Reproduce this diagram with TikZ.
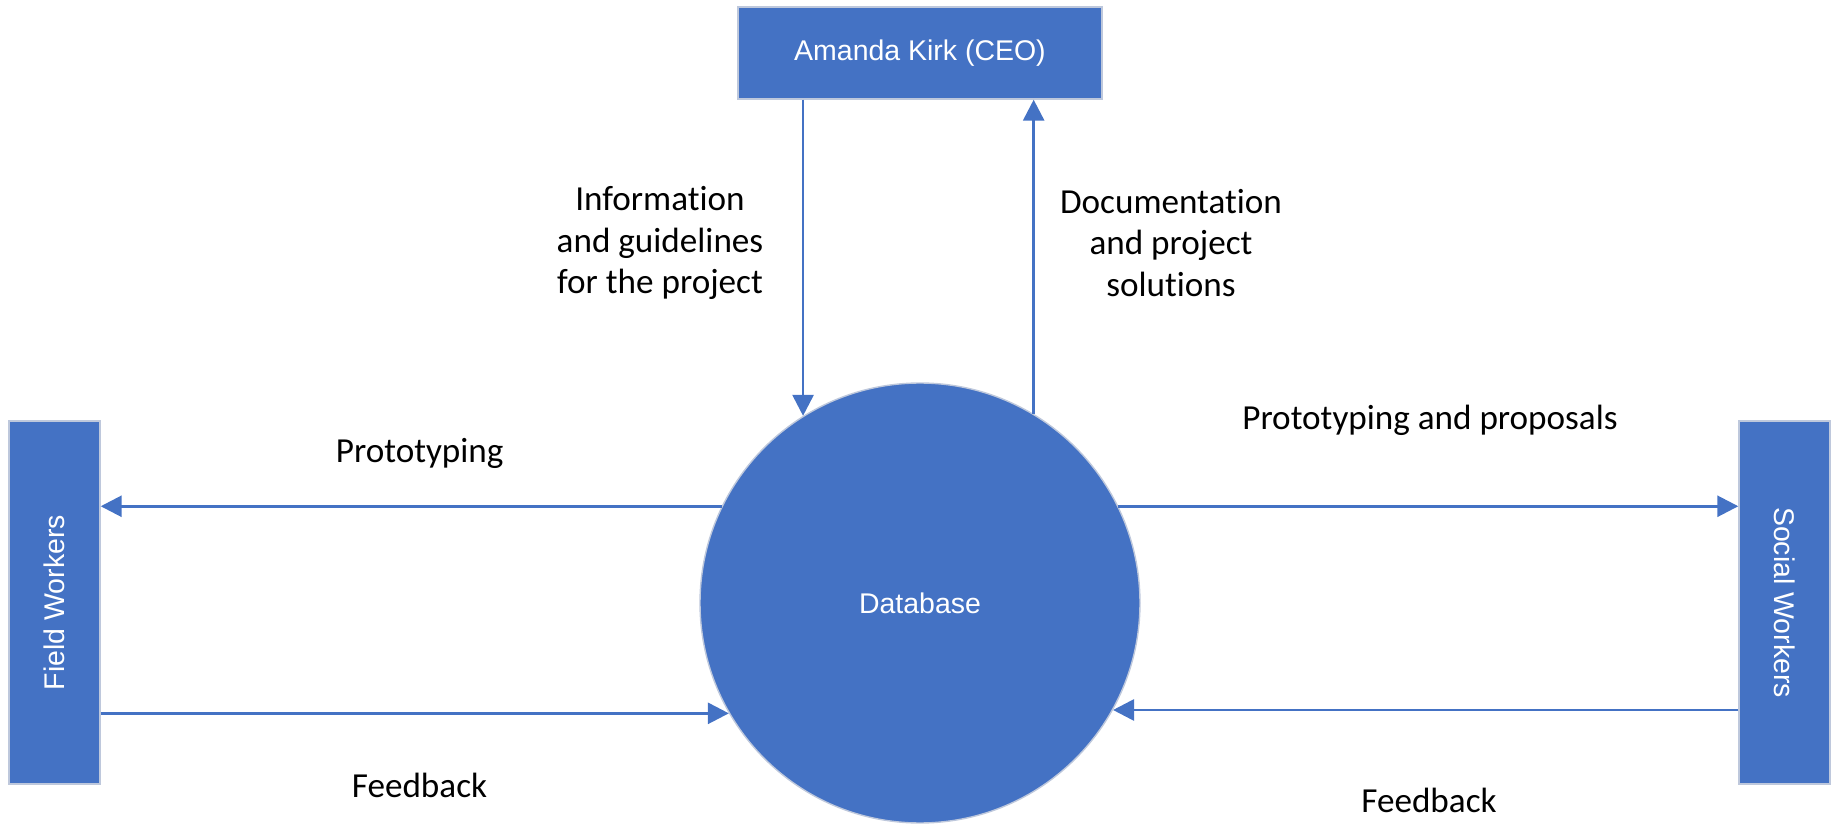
\documentclass[tikz,border=0pt]{standalone}
\usepackage{fontspec}
\setmainfont{Carlito}[Ligatures=NoCommon]
\newfontfamily\arialfont{Liberation Sans}
\usepackage{xcolor}
\definecolor{dfdblue}{RGB}{68,114,196}
\definecolor{dfdedge}{RGB}{190,200,220}
\usetikzlibrary{arrows.meta, positioning}

\begin{document}
\begin{tikzpicture}[
  entity/.style={draw=dfdedge, line width=0.4pt, fill=dfdblue, inner sep=0pt},
  boxtext/.style={font=\arialfont\fontsize{8.1}{9.7}\selectfont, white},
  flow/.style={dfdblue, line width=0.8pt, -{Triangle[length=2.1mm, width=2.1mm]}},
  flowlabel/.style={font=\fontsize{10}{11.9}\selectfont, align=center}
]
  \useasboundingbox (0,0) rectangle (18.38,8.25);

  % Entities
  \node[entity, minimum width=3.64cm, minimum height=0.92cm] (ceo) at (9.20,7.72) {};
  \node[boxtext] (ceotext) at (ceo) {Amanda Kirk (CEO)};
  \node[entity, minimum width=0.91cm, minimum height=3.63cm] (fw) at (0.545,2.225) {};
  \node[boxtext, rotate=90] (fwtext) at (fw) {Field Workers};
  \node[entity, minimum width=0.91cm, minimum height=3.63cm] (sw) at (17.845,2.225) {};
  \node[boxtext, rotate=-90] (swtext) at (sw) {Social Workers};

  % Central store
  \node[entity, circle, minimum size=4.40cm] (db) at (9.20,2.22) {};
  \node[boxtext] (dbtext) at (db) {Database};

  % Flows to and from the CEO
  \draw[flow] (db.122.9 |- ceo.south) -- (db.122.9);
  \draw[flow] (db.59.4) -- (db.59.4 |- ceo.south);
  \node[flowlabel] (infolbl) at (6.60,5.82) {Information\\and guidelines\\for the project};
  \node[flowlabel] (doclbl) at (11.71,5.82) {Documentation\\and project\\solutions};

  % Flows with the field workers
  \draw[flow] (db.154.3) -- (db.154.3 -| fw.east);
  \draw[flow] (db.210.6 -| fw.east) -- (db.210.6);
  \node[flowlabel, anchor=base] (protolbl) at (4.197,3.623) {Prototyping};
  \node[flowlabel, anchor=base] (fbleft) at (4.195,0.28) {Feedback};

  % Flows with the social workers
  \draw[flow] (db.26.9) -- (db.26.9 -| sw.west);
  \draw[flow] (db.331.7 -| sw.west) -- (db.331.7);
  \node[flowlabel, anchor=base] (proplbl) at (14.30,3.95) {Prototyping and proposals};
  \node[flowlabel, anchor=base] (fbright) at (14.29,0.127) {Feedback};
\end{tikzpicture}
\end{document}
